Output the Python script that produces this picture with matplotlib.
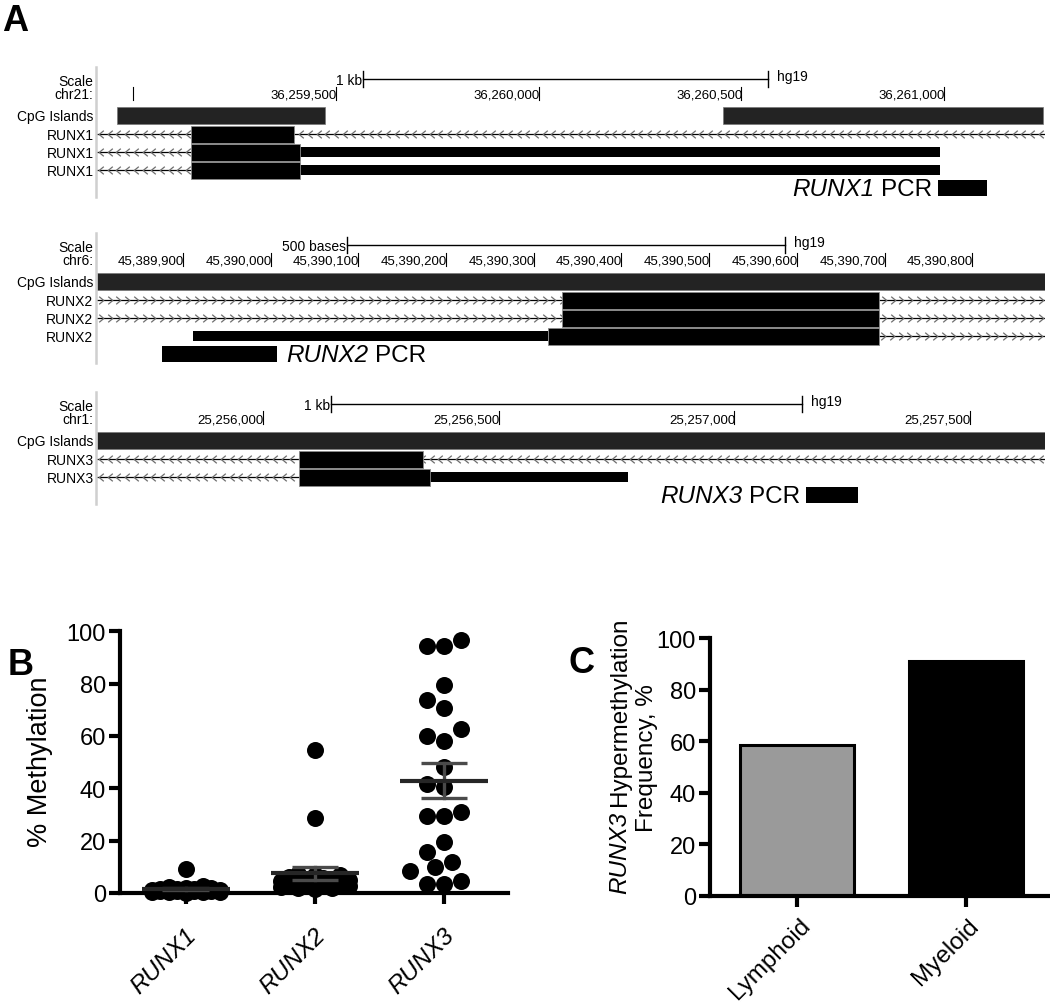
import numpy as np
import matplotlib
matplotlib.use('Agg')
from matplotlib import pyplot as plt
from matplotlib.path import Path
from matplotlib.transforms import ScaledTranslation

plt.rcParams['font.family'] = 'Liberation Sans'

W, H = 1050, 1003

# ---- A: browser views (hg19) ----
r1_view = [36258910, 36261249]
r1_ticks = [36259000, 36259500, 36260000, 36260500, 36261000]
r1_ticklabels = ['', '36,259,500', '36,260,000', '36,260,500', '36,261,000']
r1_scale = [36259566, 1000]
r1_cpg = [[36258959, 36259472], [36260455, 36261245]]
r1_lines = [[36258910, 36261249], [36258910, 36259143], [36258910, 36259143]]
r1_cds = [[36259143, 36259396], [36259143, 36259410], [36259143, 36259410]]
r1_utr = [None, [36259410, 36260990], [36259410, 36260990]]
r1_pcr = [36260985, 36261106]

r2_view = [45389802, 45390883]
r2_ticks = [45389900, 45390000, 45390100, 45390200, 45390300, 45390400,
            45390500, 45390600, 45390700, 45390800]
r2_ticklabels = ['45,389,900', '45,390,000', '45,390,100', '45,390,200', '45,390,300',
                 '45,390,400', '45,390,500', '45,390,600', '45,390,700', '45,390,800']
r2_scale = [45390087, 500]
r2_cpg = [[45389802, 45390883]]
r2_lines = [[45389802, 45390883], [45389802, 45390883], [45390694, 45390883]]
r2_cds = [[45390332, 45390694], [45390332, 45390694], [45390316, 45390694]]
r2_utr = [None, None, [45389912, 45390316]]
r2_pcr = [45389876, 45390007]

r3_view = [25255648, 25257659]
r3_ticks = [25256000, 25256500, 25257000, 25257500]
r3_ticklabels = ['25,256,000', '25,256,500', '25,257,000', '25,257,500']
r3_scale = [25256144, 1000]
r3_cpg = [[25255648, 25257659]]
r3_lines = [[25255648, 25257659], [25255648, 25256077]]
r3_cds = [[25256077, 25256339], [25256077, 25256354]]
r3_utr = [None, [25256354, 25256775]]
r3_pcr = [25257152, 25257263]

# ---- B: % methylation per sample ----
genes = ['RUNX1', 'RUNX2', 'RUNX3']
runx1_vals = [9.0, 2.5, 2.2, 2.0, 1.8, 1.6, 1.5, 1.4, 1.3, 1.2, 1.1, 1.0, 1.0,
              0.9, 0.8, 0.7, 0.6, 0.5, 0.4, 0.3, 0.2, 0.1]
runx2_vals = [54.6, 28.5, 7.2, 7.0, 6.7, 6.2, 5.8, 5.3, 4.9, 4.5, 4.2, 3.9, 3.6,
              3.4, 3.1, 2.9, 2.7, 2.5, 2.3, 2.1, 1.9, 1.7]
runx3_vals = [96.8, 94.5, 94.5, 79.5, 73.7, 70.6, 62.7, 59.9, 58.0, 48.3, 41.7,
              40.4, 30.8, 29.5, 29.5, 19.6, 15.5, 12.0, 9.8, 8.5, 4.7, 3.4, 3.4]

# ---- C: RUNX3 hypermethylation frequency ----
lineages = ['Lymphoid', 'Myeloid']
freq = [58.3, 91.0]

fig = plt.figure(figsize=(10.5, 10.03), dpi=100)

chev_left = Path([(0.6, 1.0), (-0.6, 0.0), (0.6, -1.0)])
chev_right = Path([(-0.6, 1.0), (0.6, 0.0), (-0.6, -1.0)])
SPACE = 0.278 * 17.5  # width of a space at 17.5 pt, in points


def draw_track(top, view, ticks, ticklabels, chrom, scale, scale_label, cpg, gene,
               strand, lines, cds, utr, pcr, pcr_side):
    n = len(lines)
    y_chr = top + 14
    y_cpg = top + 36.5
    rows = [top + 55 + 18 * i for i in range(n)]
    y_pcr = top + 55 + 18 * n
    y0, y1 = top - 16, y_pcr + 12
    ax = fig.add_axes([97 / W, 1 - y1 / H, 948 / W, (y1 - y0) / H])
    ax.set_xlim(view)
    ax.set_ylim(y1, y0)
    ax.axis('off')
    bpp = (view[1] - view[0]) / 948.0
    lab = ax.get_yaxis_transform()

    ax.plot([-1.5 / 948] * 2, [y0 + 4, y_pcr + 9], transform=lab, color='#cfcfcf',
            lw=1.8, clip_on=False)
    for txt, yy in [('Scale', top + 1.5), (chrom + ':', y_chr), ('CpG Islands', y_cpg)] + \
            [(gene, r) for r in rows]:
        ax.text(-3.5 / 948, yy + 4.8, txt, transform=lab, ha='right', va='baseline',
                fontsize=10)

    s, L = scale
    ax.plot([s, s + L], [top, top], color='k', lw=1)
    ax.plot([s, s], [top - 8, top + 8], color='k', lw=1)
    ax.plot([s + L, s + L], [top - 8, top + 8], color='k', lw=1)
    ax.text(s - 1 * bpp, top + 4.8, scale_label, ha='right', va='baseline', fontsize=10)
    ax.text(s + L + 9 * bpp, top + 1, 'hg19', ha='left', va='baseline', fontsize=10)

    for t, l in zip(ticks, ticklabels):
        ax.plot([t, t], [y_chr - 6.5, y_chr + 6.5], color='k', lw=0.8)
        ax.text(t + 1 * bpp, y_chr + 4.5, l, ha='right', va='baseline', fontsize=9.5)

    for a, b in cpg:
        ax.barh(y_cpg, b - a, left=a, height=17, color='#232323', edgecolor='#777777',
                linewidth=0.5)

    chev = chev_left if strand == '-' else chev_right
    for y, ln, c, u in zip(rows, lines, cds, utr):
        ax.plot(ln, [y, y], color='k', lw=0.9, zorder=1)
        xs = np.arange(ln[0] + 4 * bpp, ln[1] - 2 * bpp, 8.7 * bpp)
        ax.plot(xs, [y] * len(xs), ls='none', marker=chev, ms=5.5, mec='#6e6e6e',
                mfc='none', mew=0.9, zorder=1)
        if u is not None:
            ax.barh(y, u[1] - u[0], left=u[0], height=10, color='k', zorder=2)
        ax.barh(y, c[1] - c[0], left=c[0], height=17, color='k', edgecolor='#8a8a8a',
                linewidth=0.6, zorder=3)

    a, b = pcr
    ax.barh(y_pcr, b - a, left=a, height=16, color='k')
    if pcr_side == 'left':
        t = ax.text(a - 6 * bpp, y_pcr + 7, 'PCR', ha='right', va='baseline', fontsize=17.5)
        ax.annotate(gene, xy=(0, 0), xycoords=t, xytext=(-SPACE, 0),
                    textcoords='offset points', ha='right', va='bottom', fontsize=17.5,
                    style='italic')
    else:
        t = ax.text(b + 9 * bpp, y_pcr + 7, gene, ha='left', va='baseline', fontsize=17.5,
                    style='italic')
        ax.annotate('PCR', xy=(1, 0), xycoords=t, xytext=(SPACE, 0),
                    textcoords='offset points', ha='left', va='bottom', fontsize=17.5)


draw_track(80, r1_view, r1_ticks, r1_ticklabels, 'chr21', r1_scale, '1 kb', r1_cpg,
           'RUNX1', '-', r1_lines, r1_cds, r1_utr, r1_pcr, 'left')
draw_track(246, r2_view, r2_ticks, r2_ticklabels, 'chr6', r2_scale, '500 bases', r2_cpg,
           'RUNX2', '+', r2_lines, r2_cds, r2_utr, r2_pcr, 'right')
draw_track(405, r3_view, r3_ticks, r3_ticklabels, 'chr1', r3_scale, '1 kb', r3_cpg,
           'RUNX3', '-', r3_lines, r3_cds, r3_utr, r3_pcr, 'left')


def style_axis(ax):
    for sp in ['top', 'right']:
        ax.spines[sp].set_visible(False)
    for sp in ['left', 'bottom']:
        ax.spines[sp].set_linewidth(3)
    ax.tick_params(width=3, length=8, labelsize=17, pad=2)
    ax.set_yticks([0, 20, 40, 60, 80, 100])


def swarm(vals, sx, sy, d=17.0, maxw=35.0):
    # simple beeswarm in pixel space, returns x offsets in data units
    step = d / 2
    cands = [0.0]
    k = 1
    while k * step <= maxw:
        cands += [-k * step, k * step]
        k += 1
    placed = []
    offs = np.zeros(len(vals))
    for i in np.argsort(vals):
        y = vals[i] * sy
        best, best_d = None, -1
        for c in cands:
            md = min([np.hypot(c - px, y - py) for px, py in placed] or [1e9])
            if md >= d:
                best = c
                break
            if md > best_d:
                best, best_d = c, md
        placed.append((best, y))
        offs[i] = best / sx
    return offs


# ---- panel B ----
axB = fig.add_axes([120 / W, (H - 894) / H, 388 / W, (894 - 632.3) / H])
axB.set_xlim(0.491, 3.496)
axB.set_ylim(0, 100)
style_axis(axB)
axB.set_xticks([1, 2, 3])
axB.set_xticklabels([])
p0 = axB.transData.transform((0, 0))
p1 = axB.transData.transform((1, 1))
sx, sy = p1[0] - p0[0], p1[1] - p0[1]
for i, vals in enumerate([runx1_vals, runx2_vals, runx3_vals]):
    x = i + 1
    v = np.array(vals)
    offs = swarm(v, sx, sy)
    axB.scatter(x + offs, v, s=150, color='k', linewidths=0, zorder=3, clip_on=False)
    m = v.mean()
    se = v.std(ddof=1) / np.sqrt(len(v))
    axB.plot([x - 0.34, x + 0.34], [m, m], color='#262626', lw=3, zorder=5,
             solid_capstyle='butt')
    for yy in [m - se, m + se]:
        axB.plot([x - 0.18, x + 0.18], [yy, yy], color='#4a4a4a', lw=2.4, zorder=4,
                 solid_capstyle='butt')
    axB.plot([x, x], [m - se, m + se], color='#4a4a4a', lw=2.4, zorder=4)
    axB.text(x, 0, genes[i], rotation=45, ha='right', va='center', rotation_mode='anchor',
             fontsize=17.5, style='italic',
             transform=axB.transData + ScaledTranslation(0.07, -0.38, fig.dpi_scale_trans))
fig.text(40 / W, 1 - 762 / H, '% Methylation', rotation=90, ha='center', va='center',
         fontsize=19.5)

# ---- panel C ----
axC = fig.add_axes([710 / W, (H - 896.7) / H, 338 / W, (896.7 - 639) / H])
axC.set_xlim(-0.513, 1.487)
axC.set_ylim(0, 100)
style_axis(axC)
axC.bar([0, 1], freq, width=0.675, color=['#9a9a9a', 'k'], edgecolor='k', linewidth=2.2)
axC.set_xticks([0, 1])
axC.set_xticklabels([])
for i, name in enumerate(lineages):
    axC.text(i, 0, name, rotation=45, ha='right', va='center', rotation_mode='anchor',
             fontsize=17.5,
             transform=axC.transData + ScaledTranslation(0.1, -0.26, fig.dpi_scale_trans))
# y label: italic gene name followed by plain text, second line below
yl = fig.text(620 / W, 1 - 617 / H, 'Hypermethylation', rotation=90, ha='center',
              va='top', fontsize=17.5)
axC.annotate('RUNX3', xy=(0.5, 0), xycoords=yl, xytext=(0, -SPACE),
             textcoords='offset points', rotation=90, ha='center', va='top',
             fontsize=17.5, style='italic', annotation_clip=False)
fig.text(647 / W, 1 - 758 / H, 'Frequency, %', rotation=90, ha='center', va='center',
         fontsize=17.5)

fig.text(2 / W, 1 - 4 / H, 'A', fontsize=26, fontweight='bold', va='top')
fig.text(8 / W, 1 - 648 / H, 'B', fontsize=26, fontweight='bold', va='top')
fig.text(568 / W, 1 - 646 / H, 'C', fontsize=26, fontweight='bold', va='top')

fig.savefig('out.png', dpi=100)
